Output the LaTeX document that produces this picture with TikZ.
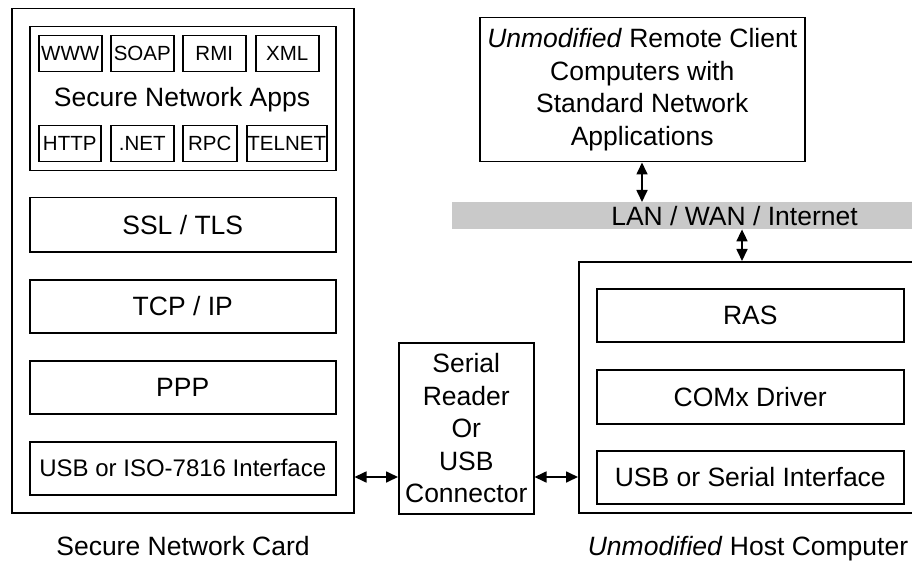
\documentclass[tikz,border=0pt]{standalone}
\usepackage{fontspec}
\setmainfont{Liberation Sans}
\usetikzlibrary{arrows.meta}
\newcommand\bigf{\fontsize{26.5}{32.5}\selectfont}
\newcommand\midf{\fontsize{24}{28}\selectfont}
\newcommand\smf{\fontsize{20.5}{24}\selectfont}
\tikzset{
  box/.style={draw, line width=1.5pt, inner sep=0pt, anchor=north west, align=center, font=\bigf},
  sbox/.style={box, font=\smf},
  arr/.style={{Triangle[length=12pt,width=11pt]}-{Triangle[length=12pt,width=11pt]}, line width=1.7pt},
  lbl/.style={inner sep=0pt, font=\bigf, align=center}
}
\begin{document}
\begin{tikzpicture}[x=1pt,y=-1pt]
\clip (0,0) rectangle (912,561);
\fill[white] (0,0) rectangle (912,561);
% Secure Network Card
\node[box, minimum width=342pt, minimum height=504pt] (card) at (11,8) {};
\node[box, minimum width=306pt, minimum height=144pt] (apps) at (29,26) {};
\node[sbox, minimum width=63pt, minimum height=36pt] (www) at (38,35) {WWW};
\node[sbox, minimum width=63pt, minimum height=36pt] (soap) at (110,35) {SOAP};
\node[sbox, minimum width=63pt, minimum height=36pt] (rmi) at (182,35) {RMI};
\node[sbox, minimum width=63pt, minimum height=36pt] (xml) at (255,35) {XML};
\node[lbl] (appsl) at (182,100) {Secure Network Apps};
\node[sbox, minimum width=62pt, minimum height=36pt] (http) at (38,125) {HTTP};
\node[sbox, minimum width=63pt, minimum height=36pt] (net) at (110,125) {.NET};
\node[sbox, minimum width=54pt, minimum height=36pt] (rpc) at (182,125) {RPC};
\node[sbox, minimum width=80pt, minimum height=36pt] (telnet) at (246,125) {TELNET};
\node[box, minimum width=306pt, minimum height=54pt] (ssl) at (29,197) {SSL / TLS};
\node[box, minimum width=306pt, minimum height=53pt] (tcp) at (29,279) {TCP / IP};
\node[box, minimum width=306pt, minimum height=53pt] (ppp) at (29,360) {PPP};
\node[box, minimum width=306pt, minimum height=53pt, font=\midf] (usbc) at (29,441) {USB or ISO-7816 Interface};
\node[lbl, anchor=base] (cardl) at (183,555) {Secure Network Card};
% Serial reader
\node[box, minimum width=135pt, minimum height=171pt] (serial) at (398,342) {Serial\\Reader\\Or\\USB\\Connector};
% Client
\node[box, minimum width=325pt, minimum height=144pt] (client) at (479,17) {\textit{Unmodified} Remote Client\\Computers with\\Standard Network\\Applications};
% Network band
\node[fill=black!21, inner sep=0pt, anchor=north west, minimum width=470pt, minimum height=27pt] (band) at (452,202) {};
\node[lbl] (lan) at (734.5,216) {LAN / WAN / Internet};
% Host
\node[box, minimum width=350pt, minimum height=251pt] (host) at (578,261) {};
\node[box, minimum width=307pt, minimum height=53pt] (ras) at (596,288) {RAS};
\node[box, minimum width=307pt, minimum height=54pt] (comx) at (596,369) {COMx Driver};
\node[box, minimum width=307pt, minimum height=53pt] (usbh) at (596,450) {USB or Serial Interface};
\node[lbl, anchor=base] (hostl) at (748,555) {\textit{Unmodified} Host Computer};
% Arrows
\coordinate (ay) at (0,477);
\coordinate (ax1) at (642,0);
\coordinate (ax2) at (742,0);
\draw[arr] (card.east |- ay) -- (serial.west |- ay);
\draw[arr] (serial.east |- ay) -- (host.west |- ay);
\draw[arr] (client.south -| ax1) -- (band.north -| ax1);
\draw[arr] (band.south -| ax2) -- (host.north -| ax2);
\end{tikzpicture}
\end{document}
